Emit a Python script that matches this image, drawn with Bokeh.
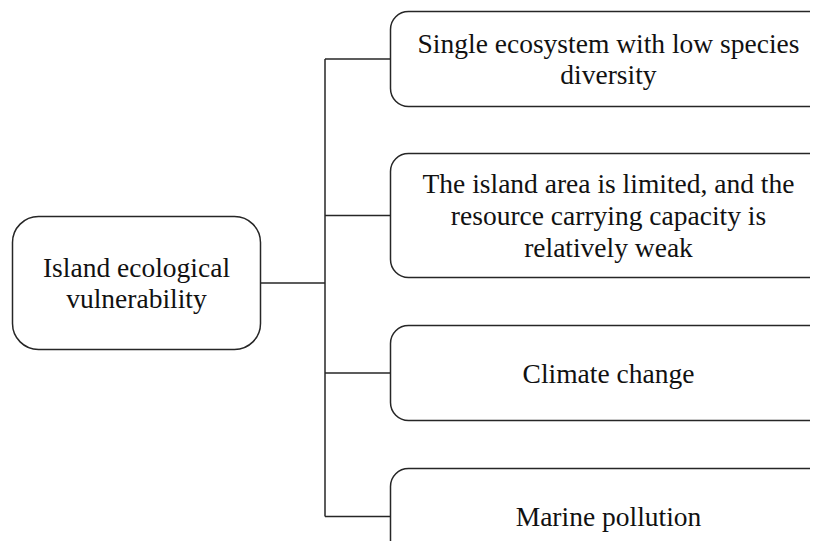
from bokeh.plotting import figure
from bokeh.models import Range1d
from bokeh.core.properties import value
from bokeh.embed import file_html
from bokeh.resources import INLINE

# ---- content ----
root_label = "Island ecological\nvulnerability"
child_labels = [
    "Single ecosystem with low species\ndiversity",
    "The island area is limited, and the\nresource carrying capacity is\nrelatively weak",
    "Climate change",
    "Marine pollution",
]

# ---- layout (picture pixel coordinates) ----
root_box = dict(left=12, right=260, top=216, bottom=349)
child_left = 390
child_right = [826, 826, 826, 826]
child_top = [11, 153, 325, 468]
child_bottom = [106, 277, 420, 568]
trunk_x = 324.5

LINE = "#262626"
FONT = value("Liberation Serif")

p = figure(width=810, height=541,
           x_range=Range1d(0, 810), y_range=Range1d(541, 0),
           output_backend="svg", toolbar_location=None, min_border=0,
           x_axis_location=None, y_axis_location=None)
p.grid.visible = False
p.outline_line_color = None
p.background_fill_color = "white"
p.border_fill_color = "white"

child_cy = [(t + b) / 2 for t, b in zip(child_top, child_bottom)]
child_cy[3] = 516
root_cy = (root_box["top"] + root_box["bottom"]) / 2
child_cx = [(child_left + r) / 2 for r in child_right]

# connectors
p.segment(x0=[root_box["right"]], y0=[root_cy], x1=[trunk_x], y1=[root_cy],
          line_color=LINE, line_width=1.5)
p.segment(x0=[trunk_x], y0=[child_cy[0]], x1=[trunk_x], y1=[child_cy[-1]],
          line_color=LINE, line_width=1.5)
p.segment(x0=[trunk_x] * 4, y0=child_cy, x1=[child_left] * 4, y1=child_cy,
          line_color=LINE, line_width=1.5)

# boxes
p.quad(left=[root_box["left"]], right=[root_box["right"]],
       top=[root_box["top"]], bottom=[root_box["bottom"]],
       fill_color="white", line_color=LINE, line_width=1.5, border_radius=26)
p.quad(left=[child_left] * 4, right=child_right, top=child_top, bottom=child_bottom,
       fill_color="white", line_color=LINE, line_width=1.5, border_radius=18)

# texts
p.text(x=[(root_box["left"] + root_box["right"]) / 2], y=[root_cy], text=[root_label],
       text_font=FONT, text_font_size="27.5px", text_align="center",
       text_baseline="middle", text_line_height=1.02, text_color="#111111")
p.text(x=child_cx, y=child_cy, text=child_labels,
       text_font=FONT, text_font_size="27.5px", text_align="center",
       text_baseline="middle", text_line_height=1.02, text_color="#111111")

open("out.html", "w").write(file_html(p, INLINE))
